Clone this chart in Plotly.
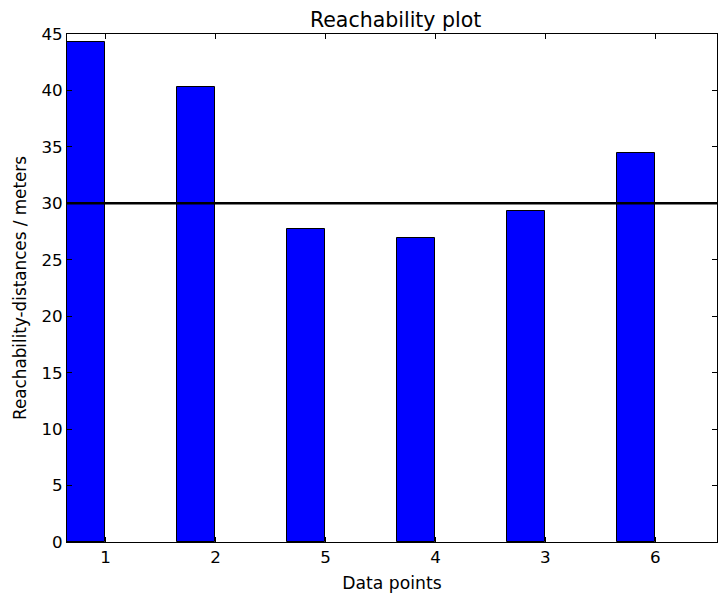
import plotly.graph_objects as go

# Order in which the points were visited and their reachability distances
point_labels = ["1", "2", "5", "4", "3", "6"]
reach_dist = [44.3, 40.3, 27.7, 26.9, 29.3, 34.5]
threshold = 30
y_ticks = [0, 5, 10, 15, 20, 25, 30, 35, 40, 45]

bar_width = 0.35
positions = list(range(len(point_labels)))
bar_centers = [p + bar_width / 2 for p in positions]
tick_positions = [p + bar_width for p in positions]

font_family = "DejaVu Sans"

fig = go.Figure()
fig.add_trace(go.Bar(
    x=bar_centers,
    y=reach_dist,
    width=bar_width,
    marker=dict(color="#0000ff", line=dict(color="black", width=1)),
    showlegend=False,
))

fig.add_hline(y=threshold, line=dict(color="black", width=2.5))

fig.update_layout(
    width=718,
    height=594,
    margin=dict(l=67, r=1, t=34, b=52),
    paper_bgcolor="white",
    plot_bgcolor="white",
    font=dict(family=font_family, size=16.7, color="black"),
    title=dict(text="Reachability plot", x=0.551, xanchor="center",
               y=0.966, yanchor="middle", font=dict(size=20.5)),
    bargap=0,
)

fig.update_xaxes(
    range=[0, 5.91],
    tickmode="array",
    tickvals=tick_positions,
    ticktext=point_labels,
    ticks="inside",
    ticklen=5,
    tickcolor="black",
    showline=True,
    linecolor="black",
    linewidth=1,
    mirror="ticks",
    showgrid=False,
    zeroline=False,
    title=dict(text="Data points", standoff=10, font=dict(size=17.2)),
)

fig.update_yaxes(
    range=[0, 45],
    tickmode="array",
    tickvals=y_ticks,
    ticks="inside",
    ticklen=5,
    tickcolor="black",
    showline=True,
    linecolor="black",
    linewidth=1,
    mirror="ticks",
    showgrid=False,
    zeroline=False,
    title=dict(text="Reachability-distances / meters", standoff=10, font=dict(size=16.8)),
)

fig.write_html("out.html")
